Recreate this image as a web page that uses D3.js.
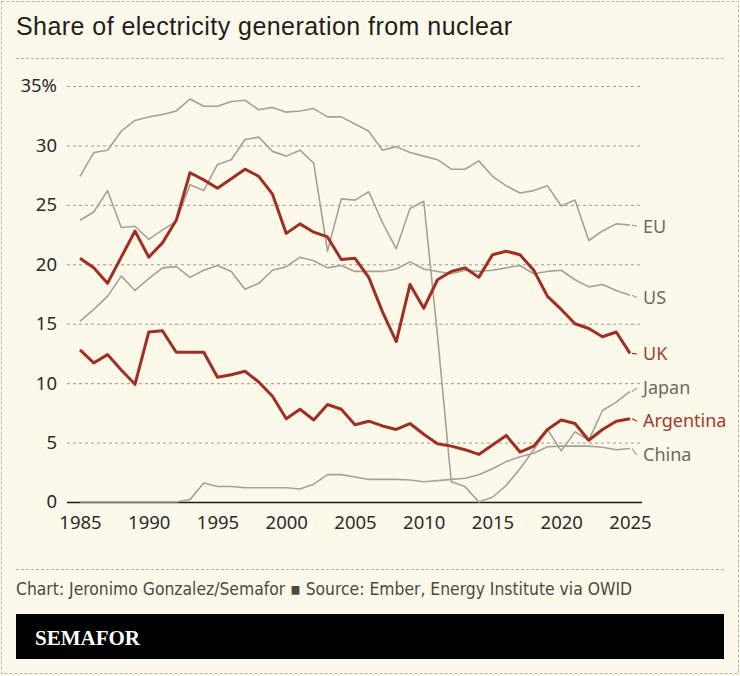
<!DOCTYPE html>
<html>
<head>
<meta charset="utf-8">
<script src="https://cdn.jsdelivr.net/npm/d3@7"></script>
<style>
  body { margin: 0; background: #fcf9ea; }
  svg { display: block; }
  .tick text { font-family: "Noto Sans", sans-serif; fill: #2b2b2b; }
</style>
</head>
<body>
<div id="chart"></div>
<script>
// =====================================
// DATA
// =====================================

const years = [1985, 1986, 1987, 1988, 1989, 1990, 1991, 1992, 1993, 1994,
  1995, 1996, 1997, 1998, 1999, 2000, 2001, 2002, 2003, 2004,
  2005, 2006, 2007, 2008, 2009, 2010, 2011, 2012, 2013, 2014,
  2015, 2016, 2017, 2018, 2019, 2020, 2021, 2022, 2023, 2024, 2025];

const eu = [27.4, 29.4, 29.6, 31.2, 32.1, 32.4, 32.6, 32.9, 33.9, 33.3,
  33.3, 33.7, 33.8, 33.0, 33.2, 32.8, 32.9, 33.1, 32.4, 32.4,
  31.8, 31.2, 29.6, 29.9, 29.4, 29.1, 28.8, 28.0, 28.0, 28.7,
  27.4, 26.6, 26.0, 26.2, 26.6, 24.9, 25.4, 22.0, 22.8, 23.4, 23.3];

const us = [15.2, 16.2, 17.3, 19.0, 17.8, 18.8, 19.7, 19.8, 18.9, 19.5,
  19.9, 19.4, 17.9, 18.4, 19.5, 19.8, 20.6, 20.3, 19.7, 19.9,
  19.4, 19.4, 19.4, 19.6, 20.2, 19.6, 19.4, 19.2, 19.5, 19.4,
  19.5, 19.7, 19.9, 19.2, 19.4, 19.5, 18.7, 18.1, 18.3, 17.8, 17.4];

const uk = [20.5, 19.7, 18.4, 20.6, 22.8, 20.6, 21.8, 23.7, 27.7, 27.1,
  26.4, 27.2, 28.0, 27.4, 25.9, 22.6, 23.4, 22.7, 22.3, 20.4,
  20.5, 18.9, 16.0, 13.5, 18.3, 16.3, 18.7, 19.4, 19.7, 18.9,
  20.8, 21.1, 20.8, 19.5, 17.3, 16.2, 15.0, 14.6, 13.9, 14.3, 12.5];

const japan = [23.7, 24.4, 26.2, 23.1, 23.2, 22.1, 22.9, 23.6, 26.7, 26.2,
  28.4, 28.8, 30.5, 30.7, 29.5, 29.1, 29.6, 28.5, 21.1, 25.5,
  25.4, 26.1, 23.5, 21.3, 24.7, 25.3, 14.0, 1.7, 1.3, 0.0,
  0.4, 1.4, 2.8, 4.4, 6.1, 4.3, 5.9, 5.2, 7.7, 8.4, 9.3];

const argentina = [12.8, 11.7, 12.4, 11.1, 9.9, 14.3, 14.4, 12.6, 12.6, 12.6,
  10.5, 10.7, 11.0, 10.1, 8.9, 7.0, 7.8, 6.9, 8.2, 7.8,
  6.5, 6.8, 6.4, 6.1, 6.6, 5.7, 4.9, 4.7, 4.4, 4.0,
  4.8, 5.6, 4.2, 4.7, 6.1, 6.9, 6.6, 5.2, 6.1, 6.8, 7.0];

const china = [0, 0, 0, 0, 0, 0, 0, 0, 0.2, 1.6,
  1.3, 1.3, 1.2, 1.2, 1.2, 1.2, 1.1, 1.5, 2.3, 2.3,
  2.1, 1.9, 1.9, 1.9, 1.85, 1.7, 1.8, 1.9, 2.0, 2.3,
  2.8, 3.4, 3.8, 4.1, 4.65, 4.7, 4.7, 4.7, 4.6, 4.4, 4.5];

const yTicks = [0, 5, 10, 15, 20, 25, 30, 35];
const xTicks = [1985, 1990, 1995, 2000, 2005, 2010, 2015, 2020, 2025];

const series = [
  { name: "EU", values: eu, highlight: false, labelAt: 23.2 },
  { name: "US", values: us, highlight: false, labelAt: 17.2 },
  { name: "Japan", values: japan, highlight: false, labelAt: 9.6 },
  { name: "China", values: china, highlight: false, labelAt: 3.95 },
  { name: "UK", values: uk, highlight: true, labelAt: 12.45 },
  { name: "Argentina", values: argentina, highlight: true, labelAt: 6.8 }
];

// =====================================
// DIMENSIONS
// =====================================

const W = 740, H = 676;
const plot = { left: 80, right: 630, top: 86, bottom: 502 };
const gridLeft = 67, gridRight = 642;

const RED = "#9e2f22";
const GREY = "#a3a29a";

const svg = d3.select("#chart")
  .append("svg")
  .attr("width", W)
  .attr("height", H);

svg.append("rect")
  .attr("width", W).attr("height", H)
  .attr("fill", "#fcf9ea");

// outer dashed frame
svg.append("rect")
  .attr("x", 1.5).attr("y", 1.5)
  .attr("width", W - 3).attr("height", H - 4)
  .attr("fill", "none")
  .attr("stroke", "#b9b6a8")
  .attr("stroke-width", 1)
  .attr("stroke-dasharray", "3 2");

// =====================================
// TITLE
// =====================================

svg.append("text")
  .attr("x", 16)
  .attr("y", 35)
  .style("font-family", "'Liberation Sans', Arial, sans-serif")
  .style("font-size", "25px")
  .style("letter-spacing", "0.45px")
  .style("fill", "#1e1e1e")
  .text("Share of electricity generation from nuclear");

svg.append("line")
  .attr("x1", 16).attr("x2", 724)
  .attr("y1", 58.5).attr("y2", 58.5)
  .attr("stroke", "#b3b1a5")
  .attr("stroke-dasharray", "3 2");

// =====================================
// SCALES
// =====================================

const x = d3.scaleLinear()
  .domain([1985, 2025])
  .range([plot.left, plot.right]);

const y = d3.scaleLinear()
  .domain([0, 35])
  .range([plot.bottom, plot.top]);

// =====================================
// AXES
// =====================================

const yAxis = svg.append("g")
  .attr("transform", `translate(${gridLeft},0)`)
  .call(
    d3.axisLeft(y)
      .tickValues(yTicks)
      .tickSize(-(gridRight - gridLeft))
      .tickPadding(10)
      .tickFormat(d => d === 35 ? "35%" : d)
  );

yAxis.select(".domain").remove();
yAxis.selectAll(".tick line")
  .attr("stroke", d => d === 0 ? "#1a1a1a" : "#9d9b90")
  .attr("stroke-width", d => d === 0 ? 1.5 : 1)
  .attr("stroke-dasharray", d => d === 0 ? null : "3 3");
yAxis.selectAll(".tick text")
  .style("font-size", "18.5px");

const xAxis = svg.append("g")
  .attr("transform", `translate(0,${plot.bottom})`)
  .call(
    d3.axisBottom(x)
      .tickValues(xTicks)
      .tickSize(0)
      .tickPadding(14)
      .tickFormat(d3.format("d"))
  );

xAxis.select(".domain").remove();
xAxis.selectAll(".tick text")
  .style("font-size", "18.5px");

// =====================================
// LINES
// =====================================

const line = d3.line()
  .x((d, i) => x(years[i]))
  .y(d => y(d));

svg.selectAll(".series")
  .data(series)
  .enter()
  .append("path")
  .attr("class", "series")
  .attr("d", d => line(d.values))
  .attr("fill", "none")
  .attr("stroke", d => d.highlight ? RED : GREY)
  .attr("stroke-width", d => d.highlight ? 3 : 1.6)
  .attr("stroke-linejoin", "round");

// leader lines + labels
const last = years.length - 1;

svg.selectAll(".leader")
  .data(series)
  .enter()
  .append("line")
  .attr("class", "leader")
  .attr("x1", x(years[last]) + 2)
  .attr("x2", x(years[last]) + 7)
  .attr("y1", d => y(d.values[last]))
  .attr("y2", d => y(d.labelAt))
  .attr("stroke", d => d.highlight ? RED : GREY)
  .attr("stroke-width", 1.2);

svg.selectAll(".label")
  .data(series)
  .enter()
  .append("text")
  .attr("class", "label")
  .attr("x", x(years[last]) + 13)
  .attr("y", d => y(d.labelAt))
  .attr("dy", "0.35em")
  .style("font-family", "'Noto Sans', sans-serif")
  .style("font-size", "18px")
  .style("fill", d => d.highlight ? "#a5392b" : "#6c6a62")
  .text(d => d.name);

// =====================================
// FOOTER
// =====================================

svg.append("line")
  .attr("x1", 16).attr("x2", 724)
  .attr("y1", 569.5).attr("y2", 569.5)
  .attr("stroke", "#b3b1a5")
  .attr("stroke-dasharray", "3 2");

svg.append("text")
  .attr("x", 16)
  .attr("y", 595)
  .style("font-family", "'Liberation Sans Narrow', 'DejaVu Sans Condensed', sans-serif")
  .style("font-size", "17.35px")
  .style("fill", "#4a4945")
  .text("Chart: Jeronimo Gonzalez/Semafor \u25AA Source: Ember, Energy Institute via OWID");

svg.append("rect")
  .attr("x", 16).attr("y", 614)
  .attr("width", 708).attr("height", 45)
  .attr("fill", "#000");

svg.append("text")
  .attr("x", 35)
  .attr("y", 645)
  .style("font-family", "'Liberation Serif', 'DejaVu Serif', serif")
  .style("font-weight", "bold")
  .style("font-size", "21px")
  .style("fill", "#fff")
  .text("SEMAFOR");
</script>
</body>
</html>
